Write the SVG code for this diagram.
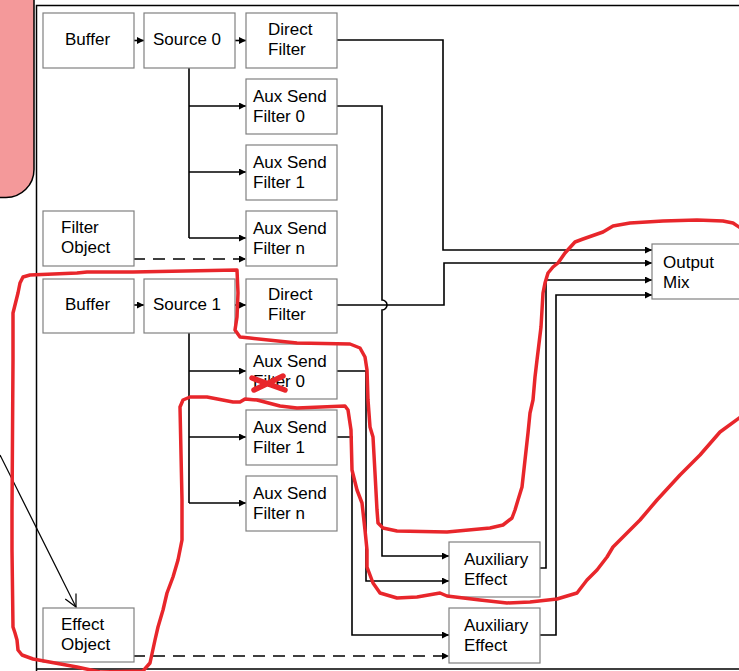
<svg xmlns="http://www.w3.org/2000/svg" width="739" height="671" viewBox="0 0 739 671">
<style>
.box{fill:#fff;stroke:#808080;stroke-width:1.2}
.t{font-family:"Liberation Sans",Arial,sans-serif;font-size:17px;fill:#000}
.c{fill:none;stroke:#000;stroke-width:1.6}
.ca{fill:none;stroke:#000;stroke-width:1.6;marker-end:url(#ah)}
.d{fill:none;stroke:#000;stroke-width:1.6;stroke-dasharray:12 8;marker-end:url(#ah)}
.red{fill:none;stroke:#E8262B;stroke-width:3.5;stroke-linejoin:round;stroke-linecap:round}
</style>
<defs>
<marker id="ah" markerUnits="userSpaceOnUse" markerWidth="7" markerHeight="7" refX="7" refY="3.5" orient="auto"><path d="M0,0 L7,3.5 L0,7 z" fill="#000"/></marker>
<marker id="open" markerUnits="userSpaceOnUse" markerWidth="16" markerHeight="16" refX="14" refY="8" orient="auto"><path d="M2,2 L14,8 L2,14" fill="none" stroke="#000" stroke-width="1.2"/></marker>
</defs>
<rect width="739" height="671" fill="#fff"/>
<rect id="note" x="-40" y="-40" width="74" height="237.5" rx="28" fill="#F4999A" stroke="#000" stroke-width="1.5"/>
<path d="M36.5,680 V5.5 H745 M36.5,669 H745" fill="none" stroke="#000" stroke-width="1.5"/>
<g id="connectors">
<path class="ca" d="M133,40.5 H144"/>
<path class="ca" d="M235,40.5 H246"/>
<path class="c" d="M189,68 V238"/>
<path class="ca" d="M189,106 H246"/>
<path class="ca" d="M189,172 H246"/>
<path class="ca" d="M189,238 H246"/>
<path class="d" d="M133,259 H246"/>
<path class="ca" d="M337,40 H443 V250 H652"/>
<path class="ca" d="M337,106 H382 V300 a5,5 0 0 1 0,10 V556 H449"/>
<path class="ca" d="M337,305 H444 V263 H652"/>
<path class="ca" d="M133,305 H144"/>
<path class="ca" d="M235,305 H246"/>
<path class="c" d="M189,333 V503"/>
<path class="ca" d="M189,371 H246"/>
<path class="ca" d="M189,437 H246"/>
<path class="ca" d="M189,503 H246"/>
<path class="ca" d="M337,371 H366 V581 H449"/>
<path class="ca" d="M337,437 H352 V635 H449"/>
<path class="d" d="M133,656 H449"/>
<path class="ca" d="M540,568 H546 V280 H652"/>
<path class="ca" d="M540,635 H556 V295 H652"/>
<path d="M0,455 L76,607" fill="none" stroke="#000" stroke-width="1.2" marker-end="url(#open)"/>
</g>
<g id="buffer0"><rect class="box" x="43" y="13" width="91" height="55"/><text class="t" x="65" y="45">Buffer</text></g>
<g id="source0"><rect class="box" x="144" y="13" width="91" height="55"/><text class="t" x="153" y="45">Source 0</text></g>
<g id="direct0"><rect class="box" x="246" y="13" width="91" height="55"/><text class="t" x="268" y="35">Direct</text><text class="t" x="268" y="55">Filter</text></g>
<g id="aux00"><rect class="box" x="246" y="79" width="91" height="55"/><text class="t" x="253" y="102">Aux Send</text><text class="t" x="253" y="122">Filter 0</text></g>
<g id="aux01"><rect class="box" x="246" y="145" width="91" height="55"/><text class="t" x="253" y="168">Aux Send</text><text class="t" x="253" y="188">Filter 1</text></g>
<g id="aux0n"><rect class="box" x="246" y="211" width="91" height="55"/><text class="t" x="253" y="234">Aux Send</text><text class="t" x="253" y="254">Filter n</text></g>
<g id="filterobj"><rect class="box" x="43" y="211" width="91" height="55"/><text class="t" x="61" y="233">Filter</text><text class="t" x="61" y="253">Object</text></g>
<g id="buffer1"><rect class="box" x="43" y="279" width="91" height="54"/><text class="t" x="65" y="310">Buffer</text></g>
<g id="source1"><rect class="box" x="144" y="279" width="91" height="54"/><text class="t" x="153" y="310">Source 1</text></g>
<g id="direct1"><rect class="box" x="246" y="279" width="91" height="54"/><text class="t" x="268" y="300">Direct</text><text class="t" x="268" y="320">Filter</text></g>
<g id="aux10"><rect class="box" x="246" y="344" width="91" height="55"/><text class="t" x="253" y="367">Aux Send</text><text class="t" x="253" y="387">Filter 0</text></g>
<g id="aux11"><rect class="box" x="246" y="410" width="91" height="55"/><text class="t" x="253" y="433">Aux Send</text><text class="t" x="253" y="453">Filter 1</text></g>
<g id="aux1n"><rect class="box" x="246" y="476" width="91" height="55"/><text class="t" x="253" y="499">Aux Send</text><text class="t" x="253" y="519">Filter n</text></g>
<g id="outputmix"><rect class="box" x="652" y="244" width="100" height="55"/><text class="t" x="663" y="268">Output</text><text class="t" x="663" y="288">Mix</text></g>
<g id="auxeffect1"><rect class="box" x="449" y="542" width="91" height="55"/><text class="t" x="464" y="565">Auxiliary</text><text class="t" x="464" y="585">Effect</text></g>
<g id="auxeffect2"><rect class="box" x="449" y="608" width="91" height="55"/><text class="t" x="464" y="631">Auxiliary</text><text class="t" x="464" y="651">Effect</text></g>
<g id="effectobj"><rect class="box" x="43" y="608" width="91" height="54"/><text class="t" x="61" y="630">Effect</text><text class="t" x="61" y="650">Object</text></g>
<g id="annotations">
<polyline class="red" points="742,229 733,223 723,221 697,220 663,221 630,223 613,226 603,232 583,239 575,242 565,253 558,263 553,267 548,273 545,283 543,293 541,327 537,360 535,377 533,400 530,413 528,433 525,460 522,487 518,500 515,510 512,518 503,525 490,528 447,532 397,531 383,528 378,523 377,510 375,473 373,437 370,427 368,400 367,370 365,357 360,348 350,344 297,343 250,338 240,337 235,330 237,317 238,293 237,270 133,272 87,272 77,273 30,275 23,277 20,283 18,293 13,313 13,360 12,510 12,550 13,627 15,633 17,640 18,650 22,655 33,659 77,667 100,672 143,671 150,663 155,640 158,627 163,610 167,593 173,577 178,560 182,540 182,500 180,407 183,400 190,397 207,397 233,402 240,402 245,399 257,400 280,406 297,408 345,406 348,410 351,430 352,470 357,490 362,503 365,530 367,550 367,567 373,583 380,593 397,598 417,597 440,593 447,596 480,600 507,603 530,602 557,599 577,593 587,580 597,570 607,557 613,547 630,530 640,520 657,500 680,475 700,455 720,432 742,416"/>
<path d="M252,378 L285,390 M254,390 L283,376" fill="none" stroke="#E8262B" stroke-width="5.5" stroke-linecap="round"/>
</g>
</svg>
